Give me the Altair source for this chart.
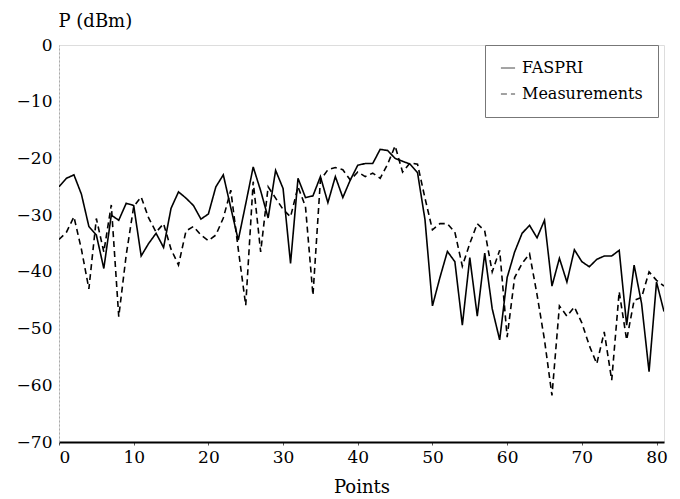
import altair as alt
import pandas as pd

points = list(range(82))

faspri = [-25.0, -23.5, -22.9, -26.3, -32.0, -33.5, -39.4, -30.0, -30.9, -27.9,
          -28.3, -37.2, -35.0, -33.2, -35.7, -28.8, -25.9, -27.0, -28.3, -30.7,
          -29.8, -25.0, -22.9, -28.7, -34.4, -28.0, -21.5, -25.7, -30.5, -22.1,
          -25.3, -38.5, -23.5, -26.9, -26.6, -23.2, -27.8, -23.2, -26.9, -23.8,
          -21.2, -20.9, -20.9, -18.4, -18.6, -20.0, -20.5, -21.0, -22.5, -30.8,
          -46.0, -41.0, -36.4, -38.2, -49.4, -37.5, -47.8, -36.7, -46.5, -52.0,
          -41.0, -36.5, -33.2, -31.8, -34.0, -30.9, -42.5, -37.6, -41.8, -36.1,
          -38.2, -39.1, -37.8, -37.2, -37.2, -36.2, -49.4, -38.8, -45.6, -57.6,
          -41.8, -47.0]

measurements = [-34.3, -33.0, -30.3, -36.0, -43.0, -30.6, -36.5, -28.2, -47.9, -37.0,
                -28.5, -26.8, -30.5, -33.0, -31.5, -36.0, -38.8, -32.8, -32.0, -33.5,
                -34.5, -33.5, -30.5, -25.6, -36.0, -45.9, -24.1, -36.5, -25.0, -27.0,
                -29.0, -30.3, -25.0, -28.5, -44.1, -23.8, -22.0, -21.6, -22.0, -23.8,
                -22.4, -23.2, -22.6, -23.5, -21.0, -17.8, -22.4, -20.8, -21.0, -27.0,
                -32.6, -31.5, -31.5, -33.0, -39.0, -35.0, -31.5, -32.8, -40.0, -36.2,
                -51.5, -41.0, -38.5, -36.8, -44.0, -52.0, -61.8, -46.0, -47.8, -46.2,
                -49.0, -53.0, -56.2, -50.6, -59.1, -43.5, -52.0, -45.0, -44.5, -40.0,
                -41.5, -42.5]

series_names = ["FASPRI", "Measurements"]
x_ticks = [0, 10, 20, 30, 40, 50, 60, 70, 80]
y_ticks = [0, -10, -20, -30, -40, -50, -60, -70]

df = pd.concat([
    pd.DataFrame({"Points": points, "P": faspri, "series": series_names[0]}),
    pd.DataFrame({"Points": points, "P": measurements, "series": series_names[1]}),
])

FONT = "DejaVu Serif"

chart = alt.Chart(df).mark_line(color="black", strokeWidth=1.6, clip=True).encode(
    x=alt.X("Points:Q",
            scale=alt.Scale(domain=[0, 81], nice=False, zero=False),
            axis=alt.Axis(values=x_ticks, title="Points", grid=False,
                          domainColor="black", domainWidth=2,
                          tickColor="#555", tickSize=3,
                          labelFont=FONT, labelFontSize=17, labelColor="black",
                          labelPadding=4,
                          titleFont=FONT, titleFontSize=18, titleFontWeight="normal",
                          titleColor="black", titleY=50, titleBaseline="alphabetic")),
    y=alt.Y("P:Q",
            scale=alt.Scale(domain=[-70, 0], nice=False),
            axis=alt.Axis(values=y_ticks, title="P (dBm)", grid=False,
                          domainColor="#aaa", domainDash=[2, 2], domainWidth=1,
                          ticks=False,
                          labelFont=FONT, labelFontSize=17, labelColor="black",
                          labelPadding=7,
                          labelExpr="replace(datum.label, '-', '\u2212')",
                          titleFont=FONT, titleFontSize=18, titleFontWeight="normal",
                          titleColor="black", titleAngle=0, titleAlign="left",
                          titleBaseline="alphabetic", titleX=-1, titleY=-19)),
    strokeDash=alt.StrokeDash("series:N",
                              scale=alt.Scale(domain=series_names,
                                              range=[[1, 0], [6, 4]]),
                              legend=alt.Legend(title=None, orient="none",
                                                legendX=426, legendY=0,
                                                labelFont=FONT, labelFontSize=16,
                                                labelColor="black",
                                                symbolType="stroke",
                                                symbolStrokeColor="#444",
                                                symbolStrokeWidth=1,
                                                symbolSize=200,
                                                rowPadding=10,
                                                padding=15,
                                                strokeColor="#777",
                                                fillColor="white",
                                                labelOffset=6)),
).properties(
    width=605,
    height=397,
    padding={"left": 59, "top": 45, "right": 16, "bottom": 57},
    autosize=alt.AutoSizeParams(type="none"),
).configure_view(
    stroke="#999", strokeWidth=1
).configure(background="white")

chart.save("out.html", embed_options={"renderer": "svg", "actions": False})
